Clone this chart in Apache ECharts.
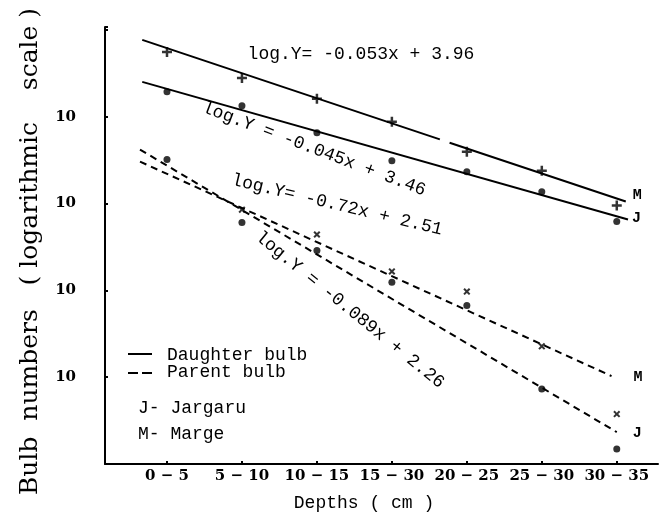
<!DOCTYPE html>
<html>
<head>
<meta charset="utf-8">
<script src="https://cdn.jsdelivr.net/npm/echarts@6/dist/echarts.min.js"></script>
<style>
  html, body { margin: 0; padding: 0; background: #fff; }
  #chart { width: 661px; height: 517px; }
</style>
</head>
<body>
<div id="chart"></div>
<script>
// ---- data ----
const depths = ['0 − 5', '5 − 10', '10 − 15', '15 − 30', '20 − 25', '25 − 30', '30 − 35'];

// observed bulb numbers (log scale), by depth class
const daughterMarge   = [55800, 28000, 16100, 8770, 3960, 2390, 950];
const daughterJargaru = [19400, 13400, 6550, 3120, 2330, 1370, 620];
const parentMarge     = [null, 850, 440, 165, 97, 22.7, 3.76];
const parentJargaru   = [3210, 605, 288, 124, 67, 7.3, 1.49];

// fitted regression lines, end points [depth position, bulb number]
const daughterMargeFitA  = [[-0.33, 76700], [3.64, 5480]];
const daughterMargeFitB  = [[3.77, 5020], [6.12, 1054]];
const daughterJargaruFit = [[-0.33, 25200], [6.15, 655]];
const parentMargeFit     = [[-0.36, 3040], [5.93, 10.3]];
const parentJargaruFit   = [[-0.36, 4180], [6.0, 2.33]];

const equations = [
  'log.Y= -0.053x + 3.96',
  'log.Y = -0.045x + 3.46',
  'log.Y= -0.72x + 2.51',
  'log.Y = -0.089x + 2.26'
];
const yTickLabel = '10';
const legendTexts = ['Daughter bulb', 'Parent bulb', 'J- Jargaru', 'M- Marge'];
const xTitle = 'Depths ( cm )';
const yTitle = 'Bulb  numbers   ( logarithmic    scale )';

// ---- chart ----
const chart = echarts.init(document.getElementById('chart'), null, { renderer: 'canvas' });
const mono = '"Liberation Mono", "DejaVu Sans Mono", monospace';
const BLACK = '#000';

const toPoints = arr => arr.map((v, i) => [i, v]).filter(p => p[1] != null);

function fitLine(data, dashed, endText, endOffset) {
  const s = {
    type: 'line',
    data: data,
    symbol: 'none',
    silent: true,
    lineStyle: { color: BLACK, width: 2, type: dashed ? [7, 5] : 'solid' },
    z: 2
  };
  if (endText) {
    s.endLabel = {
      show: true,
      formatter: endText,
      offset: endOffset,
      color: BLACK,
      fontFamily: mono,
      fontWeight: 'bold',
      fontSize: 15
    };
  }
  return s;
}

const plusPath = 'path://M3,0H5V3H8V5H5V8H3V5H0V3H3Z';

function textEl(text, x, y, rot, align) {
  return {
    type: 'text', x: x, y: y, rotation: rot || 0, silent: true,
    style: {
      text: text, font: '18px ' + mono, fill: BLACK,
      align: align || 'center', textAlign: align || 'center',
      verticalAlign: 'middle', textVerticalAlign: 'middle'
    }
  };
}

const deg = Math.PI / 180;

const option = {
  animation: false,
  backgroundColor: '#fff',
  grid: { left: 105, right: 3, top: 27, bottom: 52 },
  xAxis: {
    type: 'value',
    min: -0.827,
    max: 6.55,
    name: xTitle,
    nameLocation: 'middle',
    nameGap: 30,
    nameTextStyle: { fontFamily: mono, fontSize: 18, color: BLACK, padding: [0, 35, 0, 0] },
    axisLine: { show: true, onZero: false, lineStyle: { color: BLACK, width: 2 } },
    axisTick: { show: true, inside: true, length: 3, customValues: [0, 1, 2, 3, 4, 5, 6],
                lineStyle: { color: BLACK, width: 2 } },
    axisLabel: {
      customValues: [0, 1, 2, 3, 4, 5, 6],
      formatter: v => depths[Math.round(v)] || '',
      margin: 5,
      color: BLACK,
      fontFamily: '"DejaVu Serif", serif',
      fontWeight: 'bold',
      fontSize: 15
    },
    splitLine: { show: false }
  },
  yAxis: {
    type: 'log',
    logBase: 10,
    min: 1,
    max: 108000,
    name: yTitle,
    nameLocation: 'middle',
    nameRotate: 90,
    nameGap: 62,
    nameTextStyle: { fontFamily: '"DejaVu Serif", serif', fontSize: 25, color: BLACK, padding: [0, 12, 0, 0] },
    axisLine: { show: true, onZero: false, lineStyle: { color: BLACK, width: 2 } },
    axisTick: { show: true, inside: true, length: 3, lineStyle: { color: BLACK, width: 2 } },
    axisLabel: {
      formatter: v => (v > 1.5 && v < 50000) ? yTickLabel : '',
      margin: 29,
      color: BLACK,
      fontFamily: '"DejaVu Serif", serif',
      fontWeight: 'bold',
      fontSize: 15
    },
    splitLine: { show: false },
    minorTick: { show: false }
  },
  series: [
    fitLine(daughterMargeFitA, false),
    fitLine(daughterMargeFitB, false, 'M', [-1, -6]),
    fitLine(daughterJargaruFit, false, 'J', [-4, -1]),
    fitLine(parentMargeFit, true, 'M', [14, 1]),
    fitLine(parentJargaruFit, true, 'J', [8, 1]),
    {
      name: 'Daughter bulb – Marge', type: 'scatter', data: toPoints(daughterMarge),
      symbol: plusPath, symbolSize: 10, itemStyle: { color: BLACK }, z: 3
    },
    {
      name: 'Daughter bulb – Jargaru', type: 'scatter', data: toPoints(daughterJargaru),
      symbol: 'circle', symbolSize: 7, itemStyle: { color: BLACK }, z: 3
    },
    {
      name: 'Parent bulb – Marge', type: 'scatter', data: toPoints(parentMarge),
      symbol: plusPath, symbolRotate: 45, symbolSize: 8, itemStyle: { color: BLACK }, z: 3
    },
    {
      name: 'Parent bulb – Jargaru', type: 'scatter', data: toPoints(parentJargaru),
      symbol: 'circle', symbolSize: 7, itemStyle: { color: BLACK }, z: 3
    }
  ],
  graphic: [
    textEl(equations[0], 361, 54, 0),
    textEl(equations[1], 314, 149, -20.7 * deg),
    textEl(equations[2], 337, 205, -13.4 * deg),
    textEl(equations[3], 350, 310, -39.1 * deg),
    { type: 'line', silent: true, shape: { x1: 128, y1: 354, x2: 152, y2: 354 },
      style: { stroke: BLACK, lineWidth: 2 } },
    { type: 'line', silent: true, shape: { x1: 128, y1: 373, x2: 152, y2: 373 },
      style: { stroke: BLACK, lineWidth: 2, lineDash: [10, 4] } },
    textEl(legendTexts[0], 167, 355, 0, 'left'),
    textEl(legendTexts[1], 167, 372, 0, 'left'),
    textEl(legendTexts[2], 138, 408, 0, 'left'),
    textEl(legendTexts[3], 138, 434, 0, 'left')
  ]
};

chart.setOption(option);
</script>
</body>
</html>
